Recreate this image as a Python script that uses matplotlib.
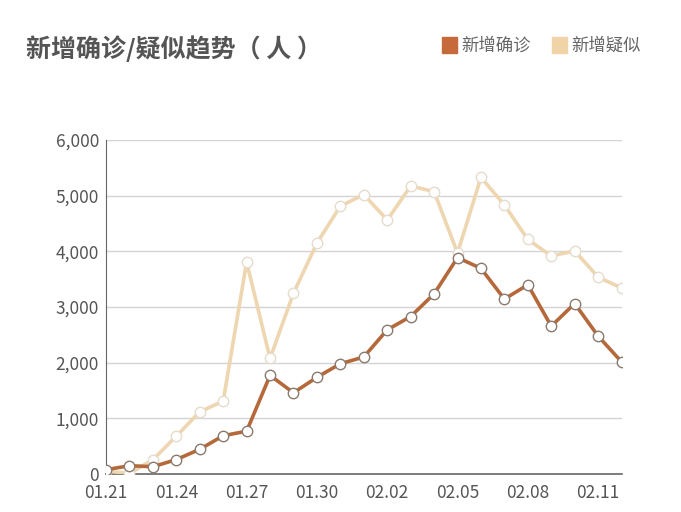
import matplotlib.pyplot as plt
from matplotlib.patches import Rectangle

plt.rcParams['font.family'] = ['Noto Sans CJK SC', 'DejaVu Sans']

dates = ["01.21", "01.22", "01.23", "01.24", "01.25", "01.26", "01.27", "01.28",
         "01.29", "01.30", "01.31", "02.01", "02.02", "02.03", "02.04", "02.05",
         "02.06", "02.07", "02.08", "02.09", "02.10", "02.11", "02.12"]
confirmed = [77, 149, 131, 259, 444, 688, 769, 1771, 1459, 1737, 1981, 2102,
             2590, 2829, 3235, 3887, 3694, 3143, 3399, 2656, 3062, 2478, 2015]
suspected = [54, 10, 257, 680, 1118, 1309, 3806, 2077, 3248, 4148, 4812, 5019,
             4562, 5173, 5072, 3971, 5328, 4833, 4214, 3916, 4008, 3536, 3342]
yticks = [0, 1000, 2000, 3000, 4000, 5000, 6000]

c_conf = "#b5693a"
c_susp = "#eed6b0"

fig = plt.figure(figsize=(6.81, 5.12), dpi=100)
ax = fig.add_axes([0.1557, 0.0742, 0.757, 0.6524])

x = list(range(len(dates)))
ax.plot(x, suspected, color=c_susp, lw=2.6, marker="o", ms=7.5,
        mfc="white", mec="#e6dccd", mew=1.0, zorder=3)
ax.plot(x, confirmed, color=c_conf, lw=2.6, marker="o", ms=7.5,
        mfc="white", mec="#8a7a6e", mew=1.0, zorder=4)

ax.set_xlim(0, len(dates) - 1)
ax.set_ylim(0, 6000)
ax.set_yticks(yticks)
ax.set_yticklabels([f"{v:,}" for v in yticks])
ax.set_xticks(x[::3])
ax.set_xticklabels(dates[::3])
ax.tick_params(length=0, labelsize=12.5, labelcolor="#555555")
ax.tick_params(axis="y", pad=5)
ax.tick_params(axis="x", pad=7)
ax.grid(axis="y", color="#d4d4d4", lw=1)
ax.set_axisbelow(True)
for s in ["top", "right"]:
    ax.spines[s].set_visible(False)
ax.spines["left"].set_color("#666666")
ax.spines["bottom"].set_color("#666666")
ax.spines["bottom"].set_linewidth(1.2)

fig.text(0.038, 0.905, "新增确诊/疑似趋势（ 人 ）", fontsize=18, fontweight="bold",
         color="#555555", va="center")

fig.patches.append(Rectangle((0.649, 0.897), 0.022, 0.030, transform=fig.transFigure,
                             color="#c66a3c"))
fig.text(0.677, 0.911, "新增确诊", fontsize=12.5, color="#666666", va="center")
fig.patches.append(Rectangle((0.811, 0.897), 0.022, 0.030, transform=fig.transFigure,
                             color="#f0d4a8"))
fig.text(0.839, 0.911, "新增疑似", fontsize=12.5, color="#666666", va="center")

fig.savefig("out.png", dpi=100)
